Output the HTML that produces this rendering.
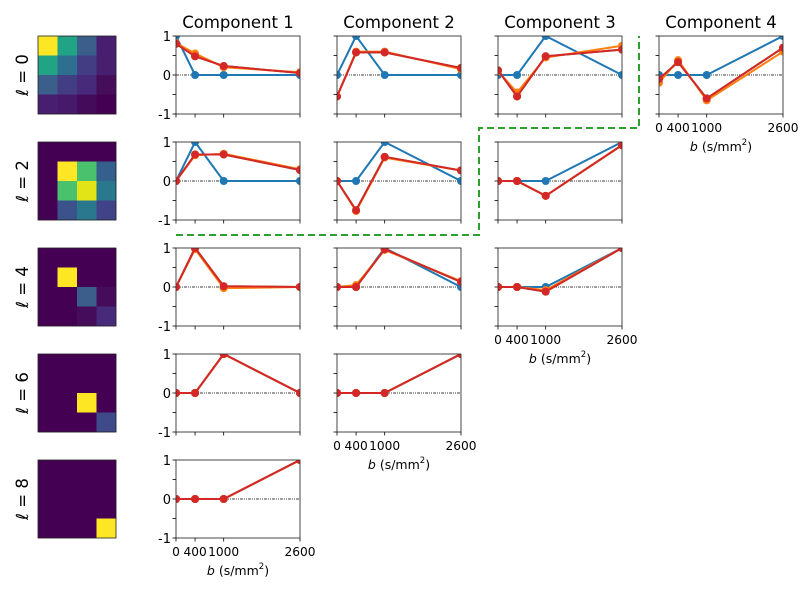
<!DOCTYPE html>
<html><head><meta charset="utf-8"><style>
html,body{margin:0;padding:0;background:#fff}
svg{display:block;font-family:"DejaVu Sans","Liberation Sans",sans-serif}
</style></head><body>
<svg id="fig" width="800" height="600" viewBox="0 0 800 600"></svg>
<script>
const bValues=[0,400,1000,2600];
const xTickLabels=["0","400","1000","2600"];
const yTickLabels=["1","0","-1"];
const seriesColors=["#1f77b4","#2ca02c","#ff7f0e","#d62728"];
const seriesNames=["truth","green-fit","orange-fit","red-fit"];
// panels: [row, col, blue, green, orange, red]
const p00b=[1,0,0,0], p00o=[0.82,0.55,0.2,0.07], p00r=[0.8,0.48,0.23,0.05];
const p01b=[0,1,0,0], p01o=[-0.55,0.6,0.6,0.15], p01r=[-0.55,0.58,0.58,0.18];
const p02b=[0,0,1,0], p02o=[0.1,-0.45,0.45,0.75], p02r=[0.12,-0.55,0.48,0.65];
const p03b=[0,0,0,1], p03o=[-0.2,0.38,-0.65,0.6], p03r=[-0.1,0.33,-0.6,0.7];
const p10b=[0,1,0,0], p10o=[0,0.66,0.7,0.3], p10r=[0,0.68,0.68,0.28];
const p11b=[0,0,1,0], p11o=[0,-0.77,0.6,0.27], p11r=[0,-0.75,0.62,0.27];
const p12b=[0,0,0,1], p12o=[0,0,-0.38,0.92], p12r=[0,0,-0.38,0.92];
const p20b=[0,1,0,0], p20o=[0,0.97,-0.03,0], p20r=[0,1,0.02,0];
const p21b=[0,0,1,0], p21o=[0,0.05,0.95,0.15], p21r=[0,0,0.97,0.13];
const p22b=[0,0,0,1], p22o=[0,0,-0.08,1], p22r=[0,0,-0.12,1];
const p30b=[0,0,1,0], p30r=[0,0,1,0];
const p31b=[0,0,0,1], p31r=[0,0,0,1];
const p40b=[0,0,0,1], p40r=[0,0,0,1];
const panels=[
 [0,0,p00b,p00r,p00o,p00r],[0,1,p01b,p01r,p01o,p01r],[0,2,p02b,p02r,p02o,p02r],[0,3,p03b,p03r,p03o,p03r],
 [1,0,p10b,p10r,p10o,p10r],[1,1,p11b,p11r,p11o,p11r],[1,2,p12b,p12r,p12o,p12r],
 [2,0,p20b,p20r,p20o,p20r],[2,1,p21b,p21r,p21o,p21r],[2,2,p22b,p22r,p22o,p22r],
 [3,0,p30b,p30r,p30r,p30r],[3,1,p31b,p31r,p31r,p31r],
 [4,0,p40b,p40r,p40r,p40r]];
const lastRowOfCol=[4,3,2,0];
const ellLabels=["0","2","4","6","8"];
const heatmaps=[
 [["#fde725","#21a386","#3b5e8b","#481f70"],["#21a386","#2e6e8e","#433d84","#46206f"],["#3b5e8b","#433d84","#472a79","#450d5a"],["#481f70","#46196a","#450b5b","#440154"]],
 [["#440154","#440154","#440154","#440154"],["#440154","#fde725","#4ac16d","#355f8d"],["#440154","#4ac16d","#e2e418","#2a788e"],["#440154","#3b528b","#2a788e","#404387"]],
 [["#440154","#440154","#440154","#440154"],["#440154","#fde725","#440154","#440154"],["#440154","#440154","#3b5f8a","#450c5c"],["#440154","#440154","#450c5c","#472a7a"]],
 [["#440154","#440154","#440154","#440154"],["#440154","#440154","#440154","#440154"],["#440154","#440154","#fde725","#440154"],["#440154","#440154","#440154","#3e4a89"]],
 [["#440154","#440154","#440154","#440154"],["#440154","#440154","#440154","#440154"],["#440154","#440154","#440154","#440154"],["#440154","#440154","#440154","#fde725"]]];

const NS="http://www.w3.org/2000/svg";
const svg=document.getElementById('fig');
function mk(tag,attrs,parent){const e=document.createElementNS(NS,tag);for(const k in attrs)e.setAttribute(k,attrs[k]);(parent||svg).appendChild(e);return e;}
const colLeft=[176,337,498,659], W=124, rowTop=[36,142,248,354,460], H=78;
function xs(c,b){return colLeft[c]+b/2600*W;}
function ys(r,v){return rowTop[r]+(1-v)/2*H;}

for(let c=0;c<4;c++){
 const t=mk('text',{x:colLeft[c]+W/2,y:28,'text-anchor':'middle','font-size':16.5,fill:'#000'});
 
 
 t.textContent='Component '+(c+1);
}
for(let r=0;r<5;r++){
 const g=mk('g',{});
 
 
 const cs=19.5;
 for(let i=0;i<4;i++)for(let j=0;j<4;j++){
  const rc=mk('rect',{x:38+j*cs,y:rowTop[r]+i*cs,width:cs+0.3,height:cs+0.3,fill:heatmaps[r][i][j]},g);
  
  
 }
 mk('rect',{x:38,y:rowTop[r],width:78,height:78,fill:'none',stroke:'#222','stroke-width':0.8},g);
 const lt=mk('text',{x:0,y:0,transform:`translate(28,${rowTop[r]+39}) rotate(-90)`,'text-anchor':'middle','font-size':16.5});
 
 
 lt.innerHTML='<tspan font-style="italic">ℓ</tspan> = '+ellLabels[r];
}
const defs=mk('defs',{});
panels.forEach((p,idx)=>{
 const [r,c]=p; const L=colLeft[c],T=rowTop[r];
 const g=mk('g',{});
 
 
 const cp=mk('clipPath',{id:'cp'+idx},defs);
 mk('rect',{x:L,y:T,width:W,height:H},cp);
 const z=mk('line',{x1:L,x2:L+W,y1:ys(r,0),y2:ys(r,0),stroke:'#000','stroke-width':0.7,'stroke-dasharray':'3,1,1,1,1,1'},g);
 
 
 const dg=mk('g',{'clip-path':`url(#cp${idx})`},g);
 for(let s=0;s<4;s++){
  const vals=p[2+s];
  const pts=vals.map((v,i)=>xs(c,bValues[i])+','+ys(r,v)).join(' ');
  const pl=mk('polyline',{points:pts,fill:'none',stroke:seriesColors[s],'stroke-width':2,'stroke-linejoin':'round'},dg);
  
  
  vals.forEach((v,i)=>{
   const m=mk('circle',{cx:xs(c,bValues[i]),cy:ys(r,v),r:4,fill:seriesColors[s]},dg);
   
   
  });
 }
 mk('rect',{x:L,y:T,width:W,height:H,fill:'none',stroke:'#333','stroke-width':0.9},g);
 [1,0.5,0,-0.5,-1].forEach((v,k)=>{
  mk('line',{x1:L-3.5,x2:L,y1:ys(r,v),y2:ys(r,v),stroke:'#000','stroke-width':0.8},g);
  if(c===0&&k%2===0){
   const tl=mk('text',{x:L-5,y:ys(r,v)+5,'text-anchor':'end','font-size':13},g);
   
   
   tl.textContent=yTickLabels[k/2];
  }
 });
 bValues.forEach((b,i)=>{
  mk('line',{x1:xs(c,b),x2:xs(c,b),y1:T+H,y2:T+H+3.5,stroke:'#000','stroke-width':0.8},g);
  if(lastRowOfCol[c]===r){
   const tl=mk('text',{x:xs(c,b),y:T+H+18,'text-anchor':'middle','font-size':12.2},g);
   
   
   tl.textContent=xTickLabels[i];
  }
 });
 if(lastRowOfCol[c]===r){
  const xl=mk('text',{x:L+W/2,y:T+H+37,'text-anchor':'middle','font-size':12.5},g);
  
  
  xl.innerHTML='<tspan font-style="italic">b</tspan> (s/mm<tspan font-size="8.5" dy="-6">2</tspan><tspan dy="6">)</tspan>';
 }
});
const gl=mk('polyline',{points:'176,235 479,235 479,128 639,128 639,36',fill:'none',stroke:'#2ca02c','stroke-width':2,'stroke-dasharray':'7,4'});


</script>
</body></html>
